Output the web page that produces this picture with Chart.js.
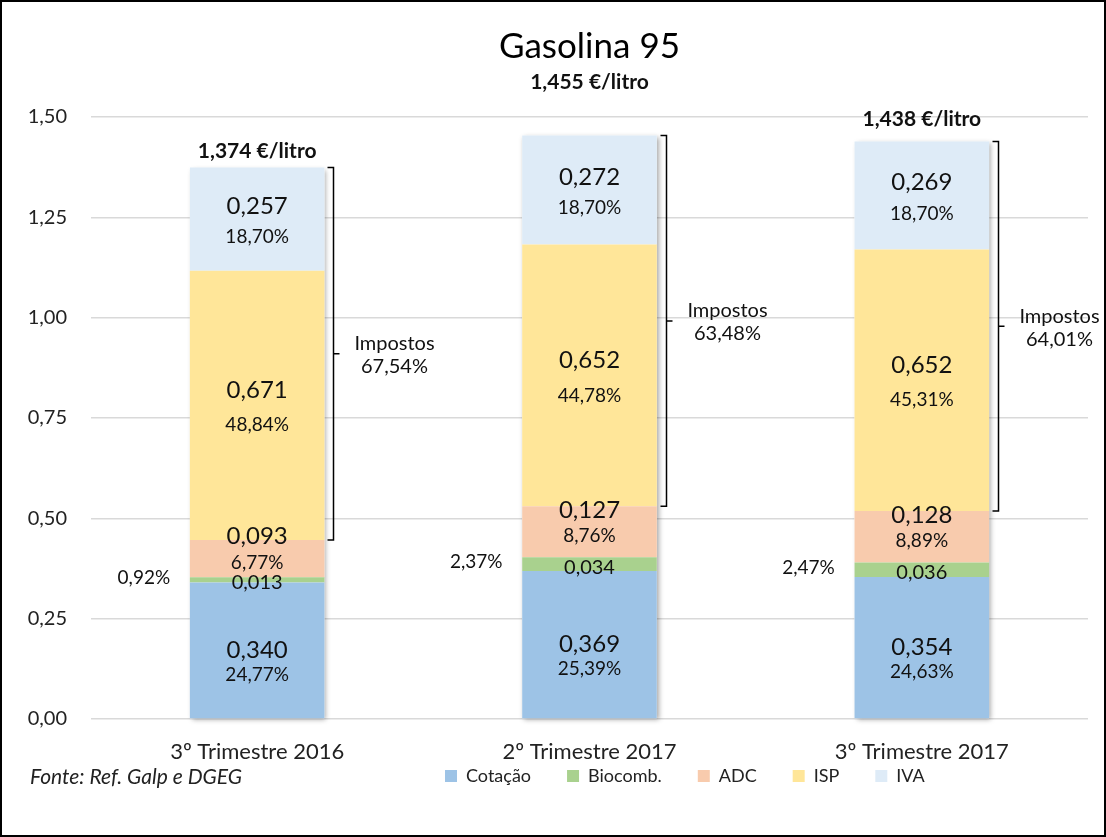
<!DOCTYPE html>
<html lang="pt">
<head>
<meta charset="UTF-8">
<title>Gasolina 95</title>
<style>
  html, body { margin: 0; padding: 0; background: #fff; }
  #wrap { width: 1106px; height: 837px; }
</style>
</head>
<body>
<div id="wrap"><canvas id="chart" width="1106" height="837"></canvas></div>
<script src="https://cdn.jsdelivr.net/npm/chart.js@4.4.0/dist/chart.umd.min.js"></script>
<script>
// valores (€/litro)
const categories = ['3º Trimestre 2016', '2º Trimestre 2017', '3º Trimestre 2017'];
const cotacao  = [0.340, 0.369, 0.354];
const biocomb  = [0.013, 0.034, 0.036];
const adc      = [0.093, 0.127, 0.128];
const isp      = [0.671, 0.652, 0.652];
const iva      = [0.257, 0.272, 0.269];
const totals   = [1.374, 1.455, 1.438];

// percentagens do preço final
const cotacaoPct = [24.77, 25.39, 24.63];
const biocombPct = [0.92, 2.37, 2.47];
const adcPct     = [6.77, 8.76, 8.89];
const ispPct     = [48.84, 44.78, 45.31];
const ivaPct     = [18.70, 18.70, 18.70];
const impostosPct = [67.54, 63.48, 64.01];

const yTicks = [0, 0.25, 0.5, 0.75, 1.0, 1.25, 1.5];

const FONT = 'Lato, "Noto Sans", sans-serif';
const fmt = (v, d) => v.toFixed(d).replace('.', ',');

const series = [
  { label: 'Cotação',  data: cotacao, pct: cotacaoPct, color: '#9DC3E6' },
  { label: 'Biocomb.', data: biocomb, pct: biocombPct, color: '#A9D18E' },
  { label: 'ADC',      data: adc,     pct: adcPct,     color: '#F8CBAD' },
  { label: 'ISP',      data: isp,     pct: ispPct,     color: '#FFE699' },
  { label: 'IVA',      data: iva,     pct: ivaPct,     color: '#DEEBF7' }
];

// deslocamento vertical dos rótulos em relação ao centro do segmento
const labelShift = [
  { v: 0,   p: 24 },
  { v: 3,   p: null },
  { v: -22, p: 4 },
  { v: -15, p: 20 },
  { v: -13, p: 18 }
];
const totalLift = [16, 53, 22];

const overlay = {
  id: 'overlay',
  afterLayout(chart) {
    // legenda deslocada para a direita e para cima, como no original
    const lg = chart.legend;
    const pad = lg.options.labels.padding;
    const w = lg.right - lg.left;
    const h = lg.bottom - lg.top;
    lg.left = 445 - pad;
    lg.right = lg.left + w;
    lg.top = 776 - pad - 9;
    lg.bottom = lg.top + h;
  },
  beforeDatasetsDraw(chart) {
    const ctx = chart.ctx;
    const first = chart.getDatasetMeta(0);
    const last = chart.getDatasetMeta(chart.data.datasets.length - 1);
    first.data.forEach((el, j) => {
      const top = last.data[j].y;
      const w = el.width;
      ctx.save();
      ctx.shadowColor = 'rgba(0,0,0,0.35)';
      ctx.shadowBlur = 5;
      ctx.shadowOffsetX = 2;
      ctx.shadowOffsetY = 2;
      ctx.fillStyle = '#fff';
      ctx.fillRect(el.x - w / 2, top, w, el.base - top);
      ctx.restore();
    });
  },
  afterDatasetsDraw(chart) {
    const ctx = chart.ctx;
    ctx.save();
    ctx.fillStyle = '#111';
    ctx.textAlign = 'center';
    ctx.textBaseline = 'middle';

    series.forEach((s, i) => {
      const meta = chart.getDatasetMeta(i);
      meta.data.forEach((el, j) => {
        const cy = (el.y + el.base) / 2;
        const sh = labelShift[i];
        ctx.font = (i === 1 ? '20px ' : '24px ') + FONT;
        ctx.fillText(fmt(s.data[j], 3), el.x, cy + sh.v);
        ctx.font = '19px ' + FONT;
        const pctText = fmt(s.pct[j], 2) + '%';
        if (sh.p === null) {
          ctx.fillText(pctText, el.x - el.width / 2 - 46, cy - 2);
        } else {
          ctx.fillText(pctText, el.x, cy + sh.p);
        }
      });
    });

    // totais e chavetas dos impostos
    const topMeta = chart.getDatasetMeta(4);
    const ispMeta = chart.getDatasetMeta(3);
    topMeta.data.forEach((el, j) => {
      ctx.font = 'bold 21px ' + FONT;
      ctx.fillText(fmt(totals[j], 3) + ' €/litro', el.x, el.y - totalLift[j]);

      const bx = Math.round(el.x + el.width / 2 + 9) + 0.5;
      const y0 = el.y;
      const y1 = ispMeta.data[j].base;
      const mid = (y0 + y1) / 2;
      ctx.beginPath();
      ctx.strokeStyle = '#000';
      ctx.lineWidth = 1.5;
      ctx.moveTo(bx - 6, y0);
      ctx.lineTo(bx, y0);
      ctx.lineTo(bx, y1);
      ctx.lineTo(bx - 6, y1);
      ctx.moveTo(bx, mid);
      ctx.lineTo(bx + 6, mid);
      ctx.stroke();

      ctx.font = '20px ' + FONT;
      ctx.fillText('Impostos', bx + 61, mid - 10);
      ctx.fillText(fmt(impostosPct[j], 2) + '%', bx + 61, mid + 13);
    });
    ctx.restore();
  },
  afterDraw(chart) {
    const ctx = chart.ctx;
    ctx.save();
    ctx.fillStyle = '#222';
    ctx.font = 'italic 21px ' + FONT;
    ctx.textAlign = 'left';
    ctx.textBaseline = 'middle';
    ctx.fillText('Fonte: Ref. Galp e DGEG', 30, 777);
    ctx.strokeStyle = '#000';
    ctx.lineWidth = 2;
    ctx.strokeRect(1, 1, chart.width - 2, chart.height - 2);
    ctx.restore();
  }
};

new Chart(document.getElementById('chart'), {
  type: 'bar',
  data: {
    labels: categories,
    datasets: series.map(s => ({
      label: s.label,
      data: s.data,
      backgroundColor: s.color,
      borderWidth: 0,
      categoryPercentage: 1,
      barPercentage: 0.405
    }))
  },
  options: {
    responsive: false,
    animation: false,
    layout: { padding: { left: 0, right: 18, top: 0, bottom: 0 } },
    plugins: {
      title: {
        display: true,
        text: 'Gasolina 95',
        fullSize: false,
        color: '#000',
        font: { family: FONT, size: 35, weight: 'normal', lineHeight: 1.2 },
        padding: { top: 26, bottom: 49 }
      },
      legend: {
        position: 'bottom',
        align: 'start',
        labels: {
          color: '#222',
          font: { family: FONT, size: 18 },
          boxWidth: 12,
          boxHeight: 12,
          padding: 36
        }
      },
      tooltip: { enabled: false }
    },
    scales: {
      x: {
        stacked: true,
        grid: { display: false, drawTicks: false },
        border: { display: false },
        ticks: { color: '#222', font: { family: FONT, size: 22 }, padding: 20 },
        afterFit(scale) { scale.height = 54; }
      },
      y: {
        stacked: true,
        min: 0,
        max: 1.5,
        afterBuildTicks(scale) { scale.ticks = yTicks.map(v => ({ value: v })); },
        grid: { color: '#d9d9d9', lineWidth: 1.5, drawTicks: false },
        border: { display: false },
        ticks: {
          color: '#222',
          font: { family: FONT, size: 20 },
          padding: 24,
          callback: v => fmt(v, 2)
        },
        afterFit(scale) { scale.width = 91; }
      }
    }
  },
  plugins: [overlay]
});
</script>
</body>
</html>
